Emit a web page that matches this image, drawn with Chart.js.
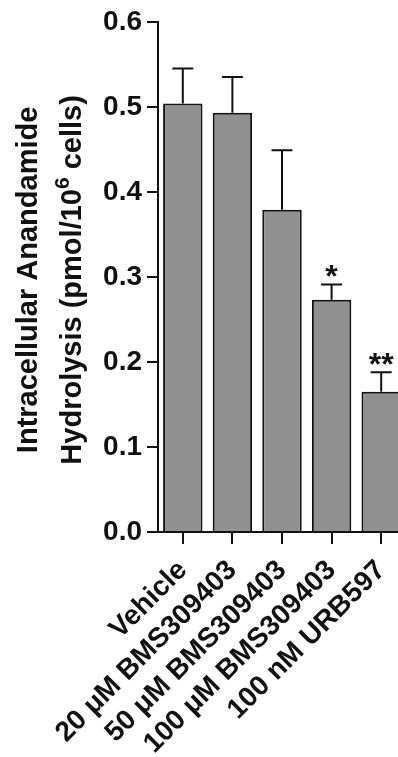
<!DOCTYPE html>
<html>
<head>
<meta charset="utf-8">
<script src="https://cdn.jsdelivr.net/npm/chart.js@4"></script>
<style>
  html, body { margin: 0; padding: 0; background: #fff; overflow: hidden; }
  canvas { display: block; }
</style>
</head>
<body>
<canvas id="chart" width="436" height="757"></canvas>
<script>
// Hidrólise intracelular de anandamida por tratamento (média + EPM)
const categories = ["Vehicle", "20 \u03BCM BMS309403", "50 \u03BCM BMS309403", "100 \u03BCM BMS309403", "100 nM URB597"]
const values = [0.504, 0.493, 0.379, 0.273, 0.165]
const sem = [0.041, 0.042, 0.070, 0.018, 0.023]
const stars = ["", "", "", "*", "**"]
const yTickLabels = ["0.0", "0.1", "0.2", "0.3", "0.4", "0.5", "0.6"]

const FONT = "'Liberation Sans', Arial, sans-serif"
const INK = "#111"

// barras de erro só para cima, com a marca de significância acima
const errorBars = {
  id: "errorBars",
  afterDatasetsDraw(chart) {
    const { ctx, scales: { y } } = chart
    const meta = chart.getDatasetMeta(0)
    ctx.save()
    ctx.strokeStyle = INK
    ctx.lineWidth = 2
    meta.data.forEach((bar, i) => {
      const top = y.getPixelForValue(values[i] + sem[i])
      ctx.beginPath()
      ctx.moveTo(bar.x, bar.y)
      ctx.lineTo(bar.x, top)
      ctx.moveTo(bar.x - 10.5, top)
      ctx.lineTo(bar.x + 10.5, top)
      ctx.stroke()
      if (stars[i]) {
        ctx.fillStyle = INK
        ctx.font = `bold 32px ${FONT}`
        ctx.textAlign = "center"
        ctx.textBaseline = "alphabetic"
        ctx.fillText(stars[i], bar.x, top + 2.5)
      }
    })
    ctx.restore()
  }
}

// título do eixo y em duas linhas, com o expoente de 10^6
const yTitle = {
  id: "yTitle",
  afterDraw(chart) {
    const { ctx, chartArea } = chart
    const cy = (chartArea.top + chartArea.bottom) / 2 + 3
    ctx.save()
    ctx.fillStyle = INK
    ctx.textBaseline = "alphabetic"

    ctx.translate(37, cy)
    ctx.rotate(-Math.PI / 2)
    ctx.font = `bold 29px ${FONT}`
    ctx.textAlign = "center"
    ctx.fillText("Intracellular Anandamide", 0, 0)
    ctx.restore()

    ctx.save()
    ctx.fillStyle = INK
    ctx.textBaseline = "alphabetic"
    ctx.translate(81, cy)
    ctx.rotate(-Math.PI / 2)
    ctx.textAlign = "left"
    const a = "Hydrolysis (pmol/10", sup = "6", b = " cells)"
    ctx.font = `bold 29px ${FONT}`
    const wa = ctx.measureText(a).width, wb = ctx.measureText(b).width
    ctx.font = `bold 21px ${FONT}`
    const ws = ctx.measureText(sup).width
    let x = -(wa + ws + wb) / 2
    ctx.font = `bold 29px ${FONT}`
    ctx.fillText(a, x, 0)
    x += wa
    ctx.font = `bold 21px ${FONT}`
    ctx.fillText(sup, x, -12)
    x += ws
    ctx.font = `bold 29px ${FONT}`
    ctx.fillText(b, x, 0)
    ctx.restore()
  }
}

new Chart(document.getElementById("chart"), {
  type: "bar",
  data: {
    labels: categories,
    datasets: [{
      data: values,
      backgroundColor: "#909090",
      borderColor: INK,
      borderWidth: 2,
      barPercentage: 0.795,
      categoryPercentage: 1
    }]
  },
  options: {
    responsive: false,
    animation: false,
    layout: { padding: { left: 0, top: 20, right: 30, bottom: 0 } },
    plugins: {
      legend: { display: false },
      tooltip: { enabled: false }
    },
    scales: {
      x: {
        grid: { offset: false, drawOnChartArea: false, drawTicks: true, tickLength: 12, color: INK, lineWidth: 2 },
        border: { color: INK, width: 2 },
        ticks: {
          color: INK,
          font: { family: FONT, size: 28, weight: "bold" },
          minRotation: 45,
          maxRotation: 45,
          autoSkip: false,
          padding: 10
        },
        afterFit: (s) => { s.height = 225 }
      },
      y: {
        min: 0,
        max: 0.6,
        grid: { drawOnChartArea: false, drawTicks: true, tickLength: 11, color: INK, lineWidth: 2 },
        border: { color: INK, width: 2 },
        ticks: {
          stepSize: 0.1,
          color: INK,
          padding: 5,
          font: { family: FONT, size: 28, weight: "bold" },
          callback: (v, i) => yTickLabels[i]
        },
        afterFit: (s) => { s.width = 158 }
      }
    }
  },
  plugins: [errorBars, yTitle]
})
</script>
</body>
</html>
